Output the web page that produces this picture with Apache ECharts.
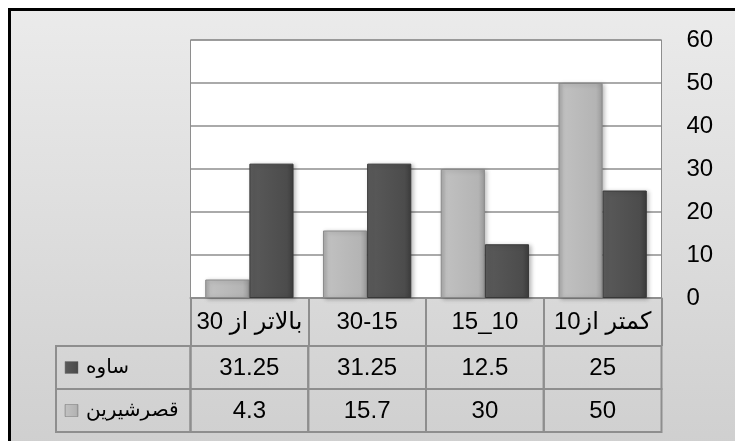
<!DOCTYPE html>
<html>
<head>
<meta charset="utf-8">
<script src="https://cdn.jsdelivr.net/npm/echarts@6/dist/echarts.min.js"></script>
<style>
html,body{margin:0;padding:0;background:#fff;}
#chart{width:735px;height:441px;}
</style>
</head>
<body>
<div id="chart"></div>
<script>
// ---- data ----
var categories = ['بالاتر از 30', '30-15', '15_10', 'کمتر از10'];
var seriesNames = ['قصرشیرین', 'ساوه'];
var qasrValues = [4.3, 15.7, 30, 50];
var savehValues = [31.25, 31.25, 12.5, 25];
var tableRows = ['ساوه', 'قصرشیرین'];
var yTicks = { min: 0, max: 60, interval: 10 };

// ---- styles ----
var FONT = "'Liberation Sans', Arial, 'DejaVu Sans', sans-serif";
var lineGray = '#8e8e8e';
function lightFill() {
  return new echarts.graphic.LinearGradient(0, 0, 1, 0, [
    { offset: 0, color: '#a8a8a8' }, { offset: 0.12, color: '#c0c0c0' },
    { offset: 0.85, color: '#b4b4b4' }, { offset: 1, color: '#9a9a9a' }]);
}
function darkFill() {
  return new echarts.graphic.LinearGradient(0, 0, 1, 0, [
    { offset: 0, color: '#5e5e5e' }, { offset: 0.12, color: '#585858' },
    { offset: 0.85, color: '#4c4c4c' }, { offset: 1, color: '#3c3c3c' }]);
}
var rowValues = { 'ساوه': savehValues, 'قصرشیرین': qasrValues };
var rowFill = { 'ساوه': darkFill, 'قصرشیرین': lightFill };

var cellData = [];
tableRows.forEach(function (r, ri) {
  rowValues[r].forEach(function (v, ci) { cellData.push([ci, ri, v]); });
});
var legendData = tableRows.map(function (r, ri) { return [0, ri]; });

var chart = echarts.init(document.getElementById('chart'), null, { renderer: 'canvas' });
chart.setOption({
  animation: false,
  backgroundColor: '#ffffff',
  graphic: {
    elements: [{
      type: 'rect', z: -10, silent: true,
      shape: { x: 9.5, y: 9.5, width: 740, height: 440 },
      style: {
        fill: new echarts.graphic.LinearGradient(0, 0, 0, 1, [
          { offset: 0, color: '#ebebeb' }, { offset: 1, color: '#cfcfcf' }]),
        stroke: '#000', lineWidth: 3
      }
    }]
  },
  grid: [
    { left: 190.5, right: 73.5, top: 40, bottom: 143, show: true, backgroundColor: '#ffffff', borderColor: lineGray, borderWidth: 1 },
    { left: 190.5, right: 73.5, top: 346, bottom: 9 },
    { left: 56, right: 544.5, top: 346, bottom: 9 }
  ],
  xAxis: [
    {
      gridIndex: 0, type: 'category', data: categories,
      axisLine: { show: true, lineStyle: { color: lineGray, width: 2 } },
      axisTick: { show: true, length: 48, interval: 0, lineStyle: { color: lineGray, width: 2 } },
      axisLabel: { interval: 0, margin: 12, fontSize: 24, color: '#000', fontFamily: FONT }
    },
    { gridIndex: 1, type: 'category', data: categories, show: false },
    { gridIndex: 2, type: 'category', data: ['legend'], show: false }
  ],
  yAxis: [
    {
      gridIndex: 0, type: 'value', position: 'right',
      min: yTicks.min, max: yTicks.max, interval: yTicks.interval,
      axisLine: { show: false }, axisTick: { show: false },
      axisLabel: { margin: 25, fontSize: 24, color: '#000', fontFamily: FONT },
      splitLine: { lineStyle: { color: lineGray, width: 1.5 } }
    },
    { gridIndex: 1, type: 'category', data: tableRows, inverse: true, show: false },
    { gridIndex: 2, type: 'category', data: tableRows, inverse: true, show: false }
  ],
  series: [
    {
      name: seriesNames[0], type: 'bar', data: qasrValues,
      barGap: '0%', barCategoryGap: '25%',
      itemStyle: { color: lightFill(), borderColor: '#8a8a8a', borderWidth: 1,
        shadowColor: 'rgba(0,0,0,0.25)', shadowBlur: 4, shadowOffsetX: 2, shadowOffsetY: 1 }
    },
    {
      name: seriesNames[1], type: 'bar', data: savehValues,
      barGap: '0%', barCategoryGap: '25%',
      itemStyle: { color: darkFill(), borderColor: '#383838', borderWidth: 1,
        shadowColor: 'rgba(0,0,0,0.25)', shadowBlur: 4, shadowOffsetX: 2, shadowOffsetY: 1 }
    },
    {
      type: 'custom', xAxisIndex: 1, yAxisIndex: 1, data: cellData,
      renderItem: function (params, api) {
        var c = api.coord([api.value(0), api.value(1)]);
        var s = api.size([1, 1]);
        return {
          type: 'group',
          children: [
            { type: 'rect', shape: { x: c[0] - s[0] / 2, y: c[1] - s[1] / 2, width: s[0], height: s[1] },
              style: { fill: 'none', stroke: lineGray, lineWidth: 2 } },
            { type: 'text', style: { text: String(api.value(2)), x: c[0], y: c[1] + 1, align: 'center', verticalAlign: 'middle',
              fontSize: 24, fontFamily: FONT, fill: '#000' } }
          ]
        };
      }
    },
    {
      type: 'custom', xAxisIndex: 2, yAxisIndex: 2, data: legendData,
      renderItem: function (params, api) {
        var c = api.coord([api.value(0), api.value(1)]);
        var s = api.size([1, 1]);
        var x0 = c[0] - s[0] / 2, y0 = c[1] - s[1] / 2;
        var name = tableRows[api.value(1)];
        return {
          type: 'group',
          children: [
            { type: 'rect', shape: { x: x0, y: y0, width: s[0], height: s[1] },
              style: { fill: 'none', stroke: lineGray, lineWidth: 2 } },
            { type: 'rect', shape: { x: x0 + 9, y: c[1] - 6, width: 13, height: 12 },
              style: { fill: rowFill[name](), stroke: '#777', lineWidth: 0.5 } },
            { type: 'text', style: { text: name, x: x0 + 30, y: c[1], align: 'left', verticalAlign: 'middle',
              fontSize: 20, fontFamily: FONT, fill: '#000' } }
          ]
        };
      }
    }
  ]
});
</script>
</body>
</html>
